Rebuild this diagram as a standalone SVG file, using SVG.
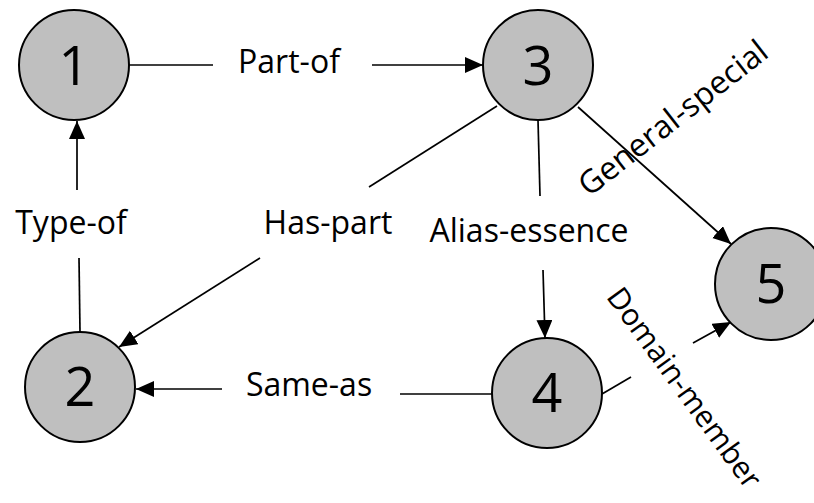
<svg xmlns="http://www.w3.org/2000/svg" width="814" height="503" viewBox="0 0 814 503">
<style>
.node circle{fill:#bfbfbf;stroke:#000;stroke-width:2}
.node text{font-family:"Open Sans","Liberation Sans",sans-serif;font-size:54px;fill:#000;text-anchor:middle}
.edge{stroke:#000;stroke-width:1.7;fill:none}
.lbl{font-family:"Open Sans","Liberation Sans",sans-serif;font-size:32px;fill:#000;text-anchor:middle}
</style>
<defs>
<marker id="ah" markerUnits="userSpaceOnUse" markerWidth="20" markerHeight="18" refX="18" refY="8" orient="auto">
<path d="M0,0 L18,8 L0,16 z" fill="#000"/>
</marker>
</defs>
<rect width="814" height="503" fill="#fff"/>
<g id="connectors">
<line class="edge" x1="129" y1="65" x2="213" y2="65"/>
<line class="edge" x1="372" y1="65" x2="483" y2="65" marker-end="url(#ah)"/>
<line class="edge" x1="80" y1="332" x2="79" y2="258"/>
<line class="edge" x1="77" y1="190" x2="77" y2="121" marker-end="url(#ah)"/>
<line class="edge" x1="497" y1="106" x2="369" y2="187"/>
<line class="edge" x1="260" y1="258" x2="119" y2="347" marker-end="url(#ah)"/>
<line class="edge" x1="538" y1="120" x2="540" y2="196"/>
<line class="edge" x1="543" y1="270" x2="545" y2="338" marker-end="url(#ah)"/>
<line class="edge" x1="578" y1="107" x2="731" y2="244" marker-end="url(#ah)"/>
<line class="edge" x1="492" y1="394" x2="400" y2="394"/>
<line class="edge" x1="222" y1="389" x2="136" y2="389" marker-end="url(#ah)"/>
<line class="edge" x1="602" y1="394" x2="631" y2="377"/>
<line class="edge" x1="693" y1="343" x2="731" y2="322" marker-end="url(#ah)"/>
</g>
<g id="labels">
<text class="lbl" x="289" y="73">Part-of</text>
<text class="lbl" x="71" y="234">Type-of</text>
<text class="lbl" x="328" y="234">Has-part</text>
<text class="lbl" x="529" y="242">Alias-essence</text>
<text class="lbl" x="309" y="396">Same-as</text>
<text class="lbl" transform="translate(673,118) rotate(-38)" x="0" y="11">General-special</text>
<text class="lbl" style="font-size:30px" transform="translate(684,388) rotate(54)" x="0" y="10">Domain-member</text>
</g>
<g id="node1" class="node"><circle cx="74" cy="65" r="55"/><text x="74" y="85">1</text></g>
<g id="node2" class="node"><circle cx="80" cy="387" r="55"/><text x="80" y="406">2</text></g>
<g id="node3" class="node"><circle cx="538" cy="65" r="55"/><text x="538" y="85">3</text></g>
<g id="node4" class="node"><circle cx="547" cy="393" r="55"/><text x="547" y="412">4</text></g>
<g id="node5" class="node"><circle cx="771" cy="284" r="56"/><text x="771" y="303">5</text></g>
</svg>
